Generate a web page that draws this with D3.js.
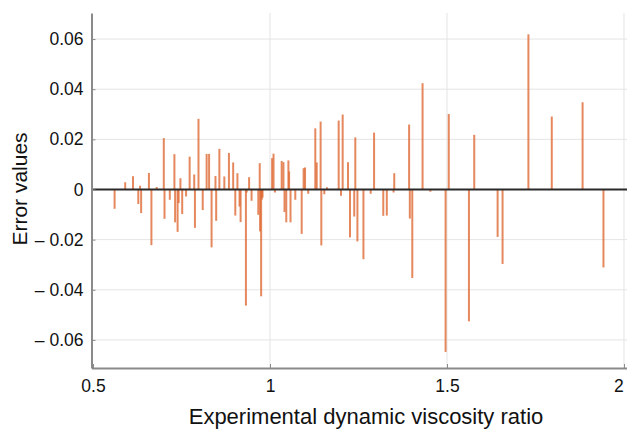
<!DOCTYPE html>
<html>
<head>
<meta charset="utf-8">
<script src="https://cdn.jsdelivr.net/npm/d3@7"></script>
<style>
  html, body { margin: 0; padding: 0; background: #fff; }
  svg { display: block; font-family: "Liberation Sans", Arial, Helvetica, sans-serif; }
</style>
</head>
<body>
<svg id="chart" width="627" height="430"></svg>
<script>
// Experimental dynamic viscosity ratio of each sample
const ratio = [
  0.561, 0.591, 0.613, 0.628, 0.633, 0.636, 0.658, 0.665, 0.680, 0.700,
  0.702, 0.717, 0.730, 0.732, 0.739, 0.742, 0.747, 0.752, 0.763, 0.773,
  0.786, 0.788, 0.798, 0.810, 0.821, 0.828, 0.835, 0.846, 0.848, 0.857,
  0.871, 0.884, 0.896, 0.902, 0.908, 0.914, 0.917, 0.932, 0.934, 0.941,
  0.948, 0.967, 0.971, 0.972, 0.975, 0.977, 0.979, 1.006, 1.010, 1.014,
  1.033, 1.038, 1.041, 1.046, 1.052, 1.054, 1.058, 1.0715, 1.0895, 1.095,
  1.099, 1.108, 1.128, 1.132, 1.143, 1.145, 1.1535, 1.161, 1.194, 1.2006,
  1.2053, 1.2203, 1.226, 1.238, 1.241, 1.247, 1.264, 1.2845, 1.294, 1.320,
  1.330, 1.349, 1.351, 1.393, 1.395, 1.402, 1.431, 1.453, 1.496, 1.505,
  1.562, 1.577, 1.643, 1.657, 1.730, 1.796, 1.883, 1.942
];

// Prediction error for each sample (same order as ratio)
const error = [
  -0.0077, 0.0029, 0.0053, -0.0058, 0.0015, -0.0094, 0.0066, -0.0222, 0.0010, 0.0205,
  -0.0117, -0.0041, 0.0141, -0.0131, -0.0169, -0.0054, 0.0045, -0.0098, -0.0028, 0.0131,
  0.0060, -0.0153, 0.0282, -0.0082, 0.0142, 0.0142, -0.0231, 0.0054, -0.0125, 0.0162,
  0.0052, 0.0146, 0.0108, -0.0104, 0.0065, -0.0068, -0.0130, -0.0463, -0.0012, 0.0049,
  -0.0045, -0.0101, 0.0105, -0.0167, -0.0426, -0.0040, -0.0032, 0.0125, 0.0143, -0.0012,
  0.0114, 0.0109, -0.0090, -0.0131, 0.0116, 0.0072, -0.0131, -0.0041, -0.0177, 0.0085,
  0.0088, -0.0017, 0.0244, 0.0108, 0.0271, -0.0223, -0.0019, 0.0009, 0.0275, -0.0025,
  0.0299, 0.0109, -0.0191, -0.0108, 0.0208, -0.0207, -0.0278, -0.0017, 0.0227, -0.0105,
  -0.0104, -0.0012, 0.0065, 0.0259, -0.0116, -0.0353, 0.0424, -0.0009, -0.0648, 0.0301,
  -0.0526, 0.0218, -0.0189, -0.0297, 0.0619, 0.0291, 0.0348, -0.0311
];

const xTicks = [0.5, 1, 1.5, 2];
const yTicks = [-0.06, -0.04, -0.02, 0, 0.02, 0.04, 0.06];

const xTitle = "Experimental dynamic viscosity ratio";
const yTitle = "Error values";

const svg = d3.select("#chart");
const plotLeft = 91.5, plotRight = 627, plotTop = 13, plotBottom = 368;

const x = d3.scaleLinear().domain([0.4958, 2.0085]).range([plotLeft, plotRight]);
const y = d3.scaleLinear().domain([-0.0712, 0.0704]).range([plotBottom, plotTop]);

const fmtY = v => v === 0 ? "0" : (v < 0 ? "\u2013 " + d3.format(".2f")(-v) : d3.format(".2f")(v));
const fmtX = v => String(v);

// grid lines
const grid = svg.append("g");
grid.selectAll("line.gy").data(yTicks).join("line")
  .attr("x1", plotLeft).attr("x2", plotRight)
  .attr("y1", d => y(d)).attr("y2", d => y(d))
  .attr("stroke", "#e4e4e4").attr("stroke-width", 1);
grid.selectAll("line.gx").data(xTicks.filter(d => d > 0.5)).join("line")
  .attr("x1", d => x(d)).attr("x2", d => x(d))
  .attr("y1", plotTop).attr("y2", plotBottom)
  .attr("stroke", "#e4e4e4").attr("stroke-width", 1);

// error bars from zero
const pts = ratio.map((r, i) => ({ r, e: error[i] }));
svg.append("g").selectAll("line").data(pts).join("line")
  .attr("x1", d => x(d.r)).attr("x2", d => x(d.r))
  .attr("y1", y(0)).attr("y2", d => y(d.e))
  .attr("stroke", "#de6a36").attr("stroke-opacity", 0.8).attr("stroke-width", 2);

// zero reference line
svg.append("line")
  .attr("x1", plotLeft).attr("x2", plotRight)
  .attr("y1", y(0)).attr("y2", y(0))
  .attr("stroke", "#2a2a2a").attr("stroke-width", 2);

// axes
const xAxis = d3.axisBottom(x).tickValues(xTicks).tickFormat(fmtX).tickSizeInner(-4).tickSizeOuter(0).tickPadding(12);
const yAxis = d3.axisLeft(y).tickValues(yTicks).tickFormat(fmtY).tickSizeInner(-4).tickSizeOuter(0).tickPadding(8);

const gx = svg.append("g").attr("transform", `translate(0,${plotBottom})`).call(xAxis);
const gy = svg.append("g").attr("transform", `translate(${plotLeft},0)`).call(yAxis);

[gx, gy].forEach(g => {
  g.select(".domain").attr("stroke", "#8a8a8a").attr("stroke-width", 2);
  g.selectAll(".tick line").attr("stroke", "#8a8a8a").attr("stroke-width", 1);
  g.selectAll(".tick text").attr("fill", "#111").attr("font-size", 17.5).attr("font-family", "Liberation Sans, Arial, sans-serif");
});

// keep the last x label inside the canvas edge
gx.selectAll(".tick text").filter(d => d === 2)
  .attr("text-anchor", "end").attr("dx", "-0.05em");

// axis titles
svg.append("text")
  .attr("x", 366).attr("y", 424)
  .attr("text-anchor", "middle")
  .attr("font-size", 22).attr("fill", "#111")
  .text(xTitle);

svg.append("text")
  .attr("transform", `translate(27,189) rotate(-90)`)
  .attr("text-anchor", "middle")
  .attr("font-size", 21).attr("fill", "#111")
  .text(yTitle);
</script>
</body>
</html>
